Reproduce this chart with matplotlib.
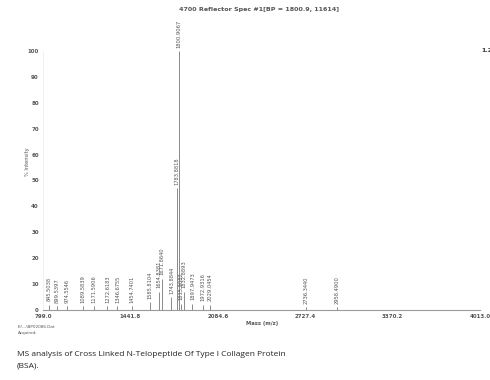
import matplotlib
matplotlib.use("Agg")
import matplotlib.pyplot as plt

# Peak data (m/z, % intensity)
peak_mz = [845.5038, 899.5397, 974.5546, 1089.5839, 1171.5906, 1272.6183,
           1346.6755, 1454.7401, 1585.8104, 1654.8381, 1671.8640, 1743.8844,
           1783.8818, 1800.9067, 1815.9082, 1832.8893, 1897.9473, 1972.9316,
           2029.0454, 2736.3440, 2958.4900]
peak_int = [2.0, 1.5, 1.5, 1.5, 1.5, 1.5,
            1.5, 1.5, 3.0, 7.0, 12.0, 5.0,
            47.0, 100.0, 2.5, 7.0, 2.5, 2.0,
            2.0, 1.0, 1.0]
x_ticks = [799.0, 1441.8, 2084.6, 2727.4, 3370.2, 4013.0]
y_ticks = [0, 10, 20, 30, 40, 50, 60, 70, 80, 90, 100]

title = "4700 Reflector Spec #1[BP = 1800.9, 11614]"
caption = ["MS analysis of Cross Linked N-Telopeptide Of Type I Collagen Protein",
           "(BSA)."]

W, H = 490, 380
fig = plt.figure(figsize=(W / 100, H / 100), dpi=100)
fig.patch.set_facecolor("white")

left, right, top, bottom = 43, 480, 51, 310
ax = fig.add_axes([left / W, 1 - bottom / H, (right - left) / W, (bottom - top) / H])
ax.set_xlim(799.0, 4013.0)
ax.set_ylim(0, 100)
ax.patch.set_alpha(0)

txt = "#555555"
for s in ["top", "right"]:
    ax.spines[s].set_visible(False)
ax.spines["bottom"].set_color("#9a9a9a")
ax.spines["bottom"].set_linewidth(0.8)
ax.spines["left"].set_color("#eeeeee")
ax.spines["left"].set_linewidth(0.6)

ax.set_xticks(x_ticks)
ax.set_xticklabels([f"{v:.1f}" for v in x_ticks])
ax.set_yticks(y_ticks)
ax.set_yticklabels([str(v) for v in y_ticks])
ax.tick_params(axis="both", length=0, labelsize=4, labelcolor=txt, pad=3)
for lab in ax.get_xticklabels() + ax.get_yticklabels():
    lab.set_fontweight("bold")

# spectrum sticks
ax.vlines(peak_mz, 0, peak_int, color="#8a8a8a", linewidth=0.7)

# peak labels
for mz, it in zip(peak_mz, peak_int):
    ax.annotate(f"{mz:.4f}", xy=(mz, it), xytext=(0, 2.5), textcoords="offset points",
                rotation=90, ha="center", va="bottom", fontsize=3.7, color=txt)

fig.text(259 / W, 1 - 9 / H, title, ha="center", va="center", fontsize=4.6,
         color=txt, fontweight="bold")
fig.text(27 / W, 1 - 162 / H, "% Intensity", rotation=90, ha="center", va="center",
         fontsize=3.7, color=txt)
fig.text(262 / W, 1 - 324 / H, "Mass (m/z)", ha="center", va="center",
         fontsize=3.8, color=txt, fontweight="bold")
fig.text(481 / W, 1 - 51 / H, "1.2E+4", ha="left", va="center", fontsize=4.5,
         color="#333333", fontweight="bold")
fig.text(18 / W, 1 - 327 / H, "E:\\...\\BP02086.Dat", ha="left", va="center",
         fontsize=3.0, color=txt)
fig.text(18 / W, 1 - 333 / H, "Acquired:", ha="left", va="center",
         fontsize=3.0, color=txt)

fig.text(17 / W, 1 - 354 / H, caption[0], ha="left", va="center", fontsize=6.0,
         color="#222222", family="Open Sans")
fig.text(17 / W, 1 - 366 / H, caption[1], ha="left", va="center", fontsize=6.0,
         color="#222222", family="Open Sans")

fig.savefig("out.png", dpi=100)
